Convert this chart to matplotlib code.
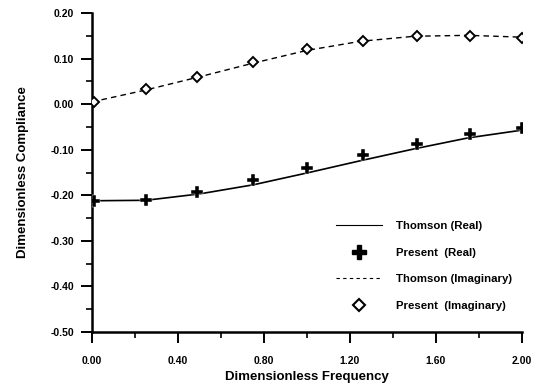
import matplotlib
matplotlib.use('Agg')
import matplotlib.pyplot as plt
from matplotlib.ticker import MultipleLocator, FormatStrFormatter
from matplotlib.lines import Line2D

plt.rcParams['font.family'] = ['Liberation Sans', 'DejaVu Sans']
plt.rcParams['font.weight'] = 'bold'

# dimensionless frequency
freq = [0.0, 0.25, 0.5, 0.75, 1.0, 1.25, 1.5, 1.75, 2.0]
freq_present = [0.01, 0.25, 0.49, 0.75, 1.0, 1.26, 1.51, 1.76, 2.0]

# Thomson curves
thomson_real = [-0.212, -0.211, -0.197, -0.177, -0.151, -0.124, -0.098, -0.074, -0.057]
thomson_imag = [0.005, 0.031, 0.060, 0.090, 0.118, 0.138, 0.149, 0.151, 0.147]

# present results
present_real = [-0.213, -0.210, -0.193, -0.166, -0.140, -0.112, -0.087, -0.066, -0.052]
present_imag = [0.005, 0.033, 0.060, 0.092, 0.121, 0.139, 0.150, 0.150, 0.145]

fig = plt.figure(figsize=(5.43, 3.86), dpi=100)
ax = fig.add_axes([0.1694, 0.1399, 0.7919, 0.8264])

ax.plot(freq, thomson_real, color='black', lw=1.2, zorder=2)
ax.plot(freq_present, present_real, linestyle='none', marker='P', ms=8,
        color='black', mec='white', mew=0.3, zorder=3)
ax.plot(freq, thomson_imag, color='black', lw=1.0, ls=(0, (4, 3)), zorder=2)
ax.plot(freq_present, present_imag, linestyle='none', marker='D', ms=5,
        mfc='white', mec='black', mew=1.4, zorder=3)

ax.set_xlim(0, 2.0)
ax.set_ylim(-0.5, 0.2)
ax.xaxis.set_major_locator(MultipleLocator(0.4))
ax.xaxis.set_minor_locator(MultipleLocator(0.2))
ax.yaxis.set_major_locator(MultipleLocator(0.1))
ax.yaxis.set_minor_locator(MultipleLocator(0.05))
ax.xaxis.set_major_formatter(FormatStrFormatter('%.2f'))
ax.yaxis.set_major_formatter(FormatStrFormatter('%.2f'))

for side in ['top', 'right']:
    ax.spines[side].set_visible(False)
for side in ['left', 'bottom']:
    ax.spines[side].set_linewidth(1.8)

ax.tick_params(which='major', direction='out', length=8, width=1.4, labelsize=7.5)
ax.tick_params(axis='y', which='major', pad=5)
ax.tick_params(axis='x', which='major', pad=9)
ax.tick_params(which='minor', direction='out', length=4, width=1.2)

ax.set_xlabel('Dimensionless Frequency', fontsize=9.5, fontweight='bold', labelpad=4)
ax.set_ylabel('Dimensionless Compliance', fontsize=9.5, fontweight='bold', labelpad=15)

handles = [
    Line2D([], [], color='black', lw=0.8),
    Line2D([], [], ls='none', marker='P', ms=10, color='black'),
    Line2D([], [], color='black', lw=0.8, ls=(0, (3, 3))),
    Line2D([], [], ls='none', marker='D', ms=6.5, mfc='white', mec='black', mew=1.5),
]
labels = ['Thomson (Real)', 'Present  (Real)', 'Thomson (Imaginary)', 'Present  (Imaginary)']
leg = ax.legend(handles, labels, loc='upper left',
                bbox_to_anchor=(333 / 543, 1 - 218 / 386), bbox_transform=fig.transFigure,
                frameon=False, fontsize=8.2, handlelength=4.0, handletextpad=1.2,
                labelspacing=1.45, borderpad=0.3, borderaxespad=0)
for t in leg.get_texts():
    t.set_fontweight('bold')

fig.savefig('out.png', dpi=100)
